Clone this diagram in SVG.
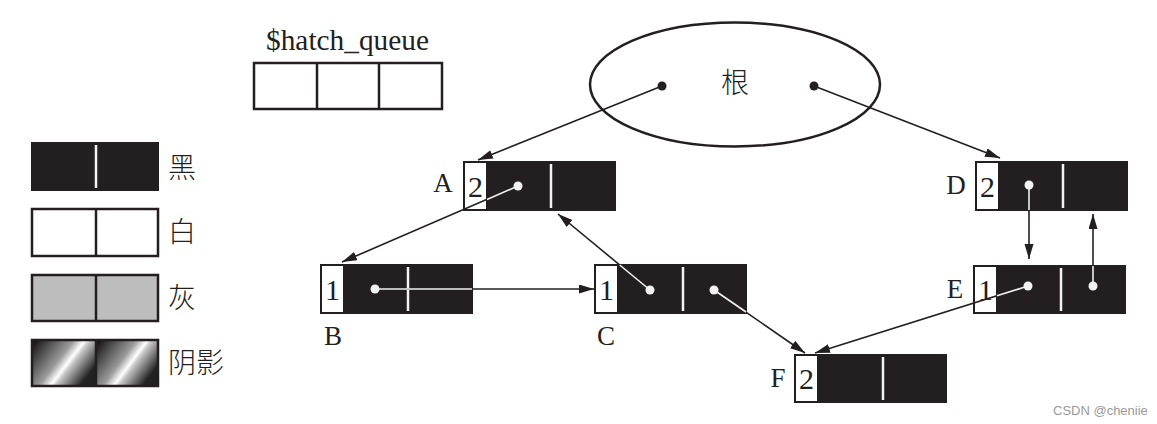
<svg xmlns="http://www.w3.org/2000/svg" width="1157" height="424" viewBox="0 0 1157 424">
<style>
.blk{fill:#231f20;stroke:#231f20;stroke-width:2}
.cell{fill:#fff;stroke:#231f20;stroke-width:2}
.wdiv{stroke:#f2f2f2;stroke-width:2.5}
.lbl{font-family:"Liberation Serif",serif;font-size:27px;fill:#231f20;text-anchor:middle}
.num{font-family:"Liberation Serif",serif;font-size:30px;fill:#231f20;text-anchor:middle}
.cjk{font-family:"Noto Sans CJK SC",sans-serif;font-size:28px;font-weight:300;fill:#231f20}
.con{stroke:#231f20;stroke-width:1.6;fill:none}
.wl{stroke:#f2f2f2;stroke-width:1.6}
.wdot{fill:#f2f2f2}
</style>
<defs>
<marker id="arr" markerUnits="userSpaceOnUse" markerWidth="16" markerHeight="10" refX="15" refY="4.5" orient="auto">
<path d="M0,0 L15,4.5 L0,9 z" fill="#231f20"/>
</marker>
<linearGradient id="shade" x1="0" y1="0" x2="1" y2="0.55">
<stop offset="0" stop-color="#0a0a0a"/>
<stop offset="0.5" stop-color="#9a9a9a"/>
<stop offset="0.64" stop-color="#ffffff"/>
<stop offset="0.7" stop-color="#c8c8c8"/>
<stop offset="1" stop-color="#222"/>
</linearGradient>
</defs>

<g id="legend">
<rect x="31" y="142" width="128" height="49" fill="#231f20"/>
<line x1="96" y1="145" x2="96" y2="188" class="wdiv"/>
<text x="168" y="178" class="cjk">黑</text>
<rect x="32" y="209" width="126" height="47" fill="#fff" stroke="#231f20" stroke-width="2.5"/>
<line x1="96" y1="209" x2="96" y2="256" stroke="#231f20" stroke-width="2.5"/>
<text x="168" y="242" class="cjk">白</text>
<rect x="32" y="275" width="126" height="46" fill="#bdbdbd" stroke="#231f20" stroke-width="2.5"/>
<line x1="96" y1="275" x2="96" y2="321" stroke="#231f20" stroke-width="2.5"/>
<text x="168" y="308" class="cjk">灰</text>
<rect x="32" y="340" width="64" height="46" fill="url(#shade)"/>
<rect x="96" y="340" width="62" height="46" fill="url(#shade)"/>
<rect x="32" y="340" width="126" height="46" fill="none" stroke="#231f20" stroke-width="2.5"/>
<line x1="96" y1="340" x2="96" y2="386" stroke="#231f20" stroke-width="2.5"/>
<text x="168" y="373" class="cjk">阴影</text>
</g>

<g id="hatch_queue">
<text x="266" y="50" font-family="Liberation Serif, serif" font-size="29" fill="#231f20" textLength="163" lengthAdjust="spacingAndGlyphs">$hatch_queue</text>
<rect x="254" y="63" width="188" height="46" fill="#fff" stroke="#231f20" stroke-width="2.5"/>
<line x1="317" y1="63" x2="317" y2="109" stroke="#231f20" stroke-width="2.5"/>
<line x1="379" y1="63" x2="379" y2="109" stroke="#231f20" stroke-width="2.5"/>
</g>

<g id="root">
<ellipse cx="735" cy="84.5" rx="145" ry="62" fill="#fff" stroke="#231f20" stroke-width="2.5"/>
<text x="735" y="93" class="cjk" text-anchor="middle">根</text>
<circle cx="662" cy="86" r="4.5" fill="#231f20"/>
<circle cx="814" cy="86" r="4.5" fill="#231f20"/>
</g>

<g id="A">
<rect x="464" y="162" width="151" height="48" class="blk"/>
<rect x="464" y="162" width="23" height="48" class="cell"/>
<line x1="551" y1="164" x2="551" y2="208" class="wdiv"/>
<text x="475.5" y="197" class="num">2</text>
<text x="443" y="192" class="lbl">A</text>
</g>

<g id="B">
<rect x="321" y="265" width="151" height="48" class="blk"/>
<rect x="321" y="265" width="23" height="48" class="cell"/>
<line x1="408" y1="267" x2="408" y2="311" class="wdiv"/>
<text x="332.5" y="300" class="num">1</text>
<text x="333" y="345" class="lbl">B</text>
</g>

<g id="C">
<rect x="595" y="265" width="151" height="48" class="blk"/>
<rect x="595" y="265" width="23" height="48" class="cell"/>
<line x1="683" y1="267" x2="683" y2="311" class="wdiv"/>
<text x="606.5" y="300" class="num">1</text>
<text x="606" y="345" class="lbl">C</text>
</g>

<g id="D">
<rect x="976" y="162" width="151" height="48" class="blk"/>
<rect x="976" y="162" width="23" height="48" class="cell"/>
<line x1="1063" y1="164" x2="1063" y2="208" class="wdiv"/>
<text x="987.5" y="197" class="num">2</text>
<text x="956" y="194" class="lbl">D</text>
</g>

<g id="E">
<rect x="974" y="266" width="151" height="47" class="blk"/>
<rect x="974" y="266" width="23" height="47" class="cell"/>
<line x1="1061" y1="268" x2="1061" y2="311" class="wdiv"/>
<text x="985.5" y="300" class="num">1</text>
<text x="955" y="298" class="lbl">E</text>
</g>

<g id="F">
<rect x="795" y="355" width="151" height="47" class="blk"/>
<rect x="795" y="355" width="23" height="47" class="cell"/>
<line x1="883" y1="357" x2="883" y2="400" class="wdiv"/>
<text x="806.5" y="389" class="num">2</text>
<text x="778" y="387" class="lbl">F</text>
</g>

<g id="connectors">
<line x1="662" y1="86" x2="478" y2="160" class="con" marker-end="url(#arr)"/>
<line x1="814" y1="86" x2="1000" y2="158" class="con" marker-end="url(#arr)"/>
<line x1="518" y1="186" x2="342" y2="262" class="con" marker-end="url(#arr)"/>
<line x1="518" y1="186" x2="487" y2="199.4" class="wl"/>
<circle cx="518" cy="186" r="4.5" class="wdot"/>
<line x1="375" y1="289" x2="594" y2="289" class="con" marker-end="url(#arr)"/>
<line x1="375" y1="289" x2="472" y2="289" class="wl"/>
<circle cx="375" cy="289" r="4.5" class="wdot"/>
<line x1="650" y1="290" x2="558" y2="214" class="con" marker-end="url(#arr)"/>
<line x1="650" y1="290" x2="619.7" y2="265" class="wl"/>
<circle cx="650" cy="290" r="4.5" class="wdot"/>
<line x1="714" y1="290" x2="805" y2="353" class="con" marker-end="url(#arr)"/>
<line x1="714" y1="290" x2="746" y2="312" class="wl"/>
<circle cx="714" cy="290" r="4.5" class="wdot"/>
<line x1="1029" y1="185" x2="1029" y2="259" class="con" marker-end="url(#arr)"/>
<line x1="1029" y1="185" x2="1029" y2="210" class="wl"/>
<circle cx="1029" cy="185" r="4.5" class="wdot"/>
<line x1="1093" y1="286" x2="1093" y2="214" class="con" marker-end="url(#arr)"/>
<line x1="1093" y1="286" x2="1093" y2="266" class="wl"/>
<circle cx="1093" cy="286" r="4.5" class="wdot"/>
<line x1="1028" y1="286" x2="815" y2="353" class="con" marker-end="url(#arr)"/>
<line x1="1028" y1="286" x2="997" y2="295.8" class="wl"/>
<circle cx="1028" cy="286" r="4.5" class="wdot"/>
</g>

<text x="1053" y="415" font-family="Liberation Sans, sans-serif" font-size="13" fill="#999">CSDN @cheniie</text>
</svg>
